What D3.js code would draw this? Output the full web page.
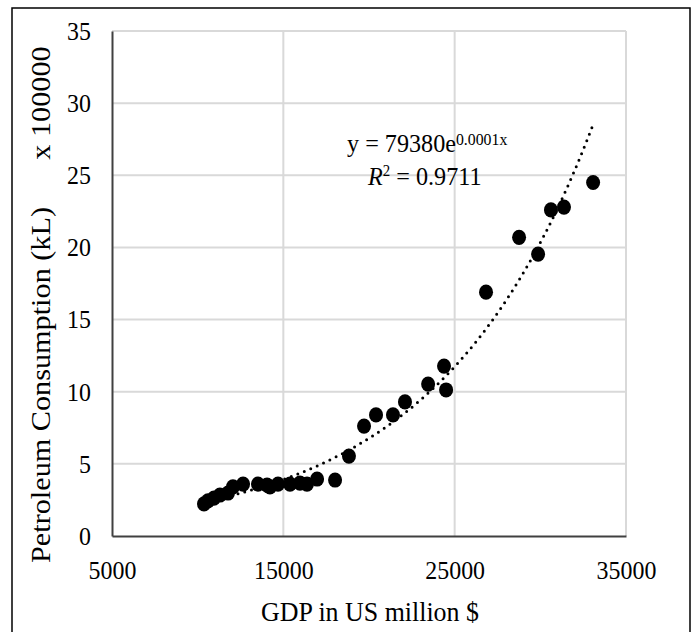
<!DOCTYPE html>
<html>
<head>
<meta charset="utf-8">
<script src="https://cdn.jsdelivr.net/npm/d3@7"></script>
<style>
  body { margin: 0; background: #fff; }
  svg { display: block; font-family: "Liberation Serif", "Times New Roman", serif; }
</style>
</head>
<body>
<svg id="chart" width="694" height="632"></svg>
<script>
// GDP (US million $) and petroleum consumption (x 100000 kL)
const gdp = [10370, 10600, 10950, 11300, 11770, 12060, 12650, 13520, 14050, 14220,
             14690, 15390, 15970, 16380, 16970, 18020, 18830, 19710, 20410, 21400,
             22100, 23450, 24380, 24500, 26830, 28760, 29870, 30620, 31380, 33080];
const petrol = [2.22, 2.43, 2.63, 2.84, 2.98, 3.40, 3.60, 3.60, 3.53, 3.40,
                3.60, 3.60, 3.67, 3.60, 3.95, 3.88, 5.54, 7.62, 8.39, 8.39,
                9.29, 10.53, 11.78, 10.12, 16.9, 20.7, 19.54, 22.6, 22.8, 24.5];
const xTicks = [5000, 15000, 25000, 35000];
const yTicks = [0, 5, 10, 15, 20, 25, 30, 35];

const svg = d3.select("#chart");

// outer frame
svg.append("rect")
  .attr("x", 12).attr("y", 8)
  .attr("width", 678).attr("height", 640)
  .attr("fill", "none").attr("stroke", "#000").attr("stroke-width", 1.5);

const x = d3.scaleLinear().domain([5000, 35000]).range([112, 626]);
const y = d3.scaleLinear().domain([0, 35]).range([536, 31]);

// gridlines
svg.append("g")
  .selectAll("line")
  .data(yTicks.filter(d => d > 0))
  .join("line")
  .attr("x1", x(5000)).attr("x2", x(35000))
  .attr("y1", d => y(d)).attr("y2", d => y(d))
  .attr("stroke", "#d9d9d9").attr("stroke-width", 2);

svg.append("g")
  .selectAll("line")
  .data(xTicks.filter(d => d > 5000))
  .join("line")
  .attr("x1", d => x(d)).attr("x2", d => x(d))
  .attr("y1", y(0)).attr("y2", y(35))
  .attr("stroke", "#d9d9d9").attr("stroke-width", 2);

// axes
const xAxis = svg.append("g")
  .attr("transform", "translate(0," + y(0) + ")")
  .call(d3.axisBottom(x).tickValues(xTicks).tickSize(0).tickPadding(25).tickFormat(d3.format("d")));
const yAxis = svg.append("g")
  .attr("transform", "translate(" + x(5000) + ",0)")
  .call(d3.axisLeft(y).tickValues(yTicks).tickSize(0).tickPadding(23));

[xAxis, yAxis].forEach(a => {
  a.select(".domain").attr("stroke", "#404040").attr("stroke-width", 2);
  a.selectAll("text")
    .attr("fill", "#000")
    .attr("transform", "scale(0.92,1)") // the picture's text is a bit narrow
    .style("font-family", "'Liberation Serif', 'Times New Roman', serif")
    .style("font-size", "26px");
});
xAxis.selectAll("text").attr("dy", "0.68em");

// axis titles
svg.append("text")
  .attr("transform", "translate(370,621) scale(0.96,1)")
  .attr("text-anchor", "middle")
  .style("font-size", "27px")
  .text("GDP in US million $");

svg.append("text")
  .attr("transform", "translate(50,385) rotate(-90) scale(1.12,1)")
  .attr("text-anchor", "middle")
  .style("font-size", "27px")
  .text("Petroleum Consumption (kL)");

svg.append("text")
  .attr("transform", "translate(50,103) rotate(-90) scale(1.12,1)")
  .attr("text-anchor", "middle")
  .style("font-size", "27px")
  .text("x 100000");

// points
const pts = gdp.map((g, i) => ({ g: g, p: petrol[i] }));
svg.append("g")
  .selectAll("ellipse")
  .data(pts)
  .join("ellipse")
  .attr("cx", d => x(d.g))
  .attr("cy", d => y(d.p))
  .attr("rx", 7)
  .attr("ry", 7.6)
  .attr("fill", "#000");

// exponential trendline: least squares on ln(y)
const mx = d3.mean(pts, d => d.g);
const my = d3.mean(pts, d => Math.log(d.p));
const b = d3.sum(pts, d => (d.g - mx) * (Math.log(d.p) - my)) / d3.sum(pts, d => (d.g - mx) * (d.g - mx));
const a = Math.exp(my - b * mx);
const xs = d3.range(d3.min(gdp), d3.max(gdp) + 1, 100);
svg.append("path")
  .datum(xs)
  .attr("d", d3.line().x(d => x(d)).y(d => y(a * Math.exp(b * d))))
  .attr("fill", "none")
  .attr("stroke", "#000")
  .attr("stroke-width", 3)
  .attr("stroke-linecap", "round")
  .attr("stroke-dasharray", "0 7");

// equation labels
const eq = svg.append("text")
  .attr("transform", "translate(347,152) scale(0.93,1)")
  .style("font-size", "26px");
eq.append("tspan").text("y = 79380e");
eq.append("tspan").attr("dy", -7).style("font-size", "17px").text("0.0001x");

const r2 = svg.append("text")
  .attr("transform", "translate(368,185) scale(0.93,1)")
  .style("font-size", "26px");
r2.append("tspan").style("font-style", "italic").text("R");
r2.append("tspan").attr("dy", -9).style("font-size", "16px").text("2");
r2.append("tspan").attr("dy", 9).text(" = 0.9711");
</script>
</body>
</html>
